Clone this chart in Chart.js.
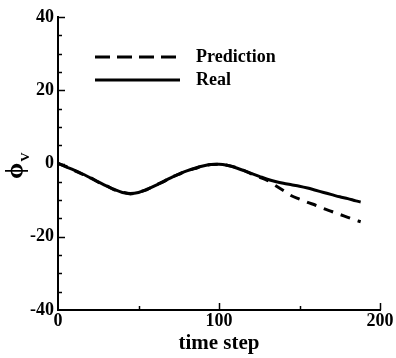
<!DOCTYPE html>
<html>
<head>
<meta charset="utf-8">
<script src="https://cdn.jsdelivr.net/npm/chart.js@4"></script>
<style>
  html, body { margin: 0; padding: 0; background: #fff; }
  #wrap { width: 396px; height: 358px; }
</style>
</head>
<body>
<div id="wrap"><canvas id="chart" width="396" height="358"></canvas></div>
<script>
// ---------- data ----------
const timeSteps = [0,5,10,15,20,25,30,35,40,45,50,55,60,65,70,75,80,85,90,95,100,105,110,115,120,125,130,135,140,145,150,155,160,165,170,175,180,185,188];
const realVals = [0,-0.9,-1.8,-2.8,-3.9,-5.0,-6.1,-7.1,-7.9,-8.2,-7.9,-7.1,-6.1,-5.0,-3.9,-2.9,-2.0,-1.3,-0.7,-0.3,-0.2,-0.5,-1.1,-1.9,-2.7,-3.5,-4.3,-4.9,-5.4,-5.8,-6.2,-6.7,-7.3,-7.9,-8.5,-9.1,-9.6,-10.2,-10.5];
const predVals = [0,-0.8,-1.9,-2.9,-3.8,-5.1,-6.0,-7.2,-7.8,-8.3,-7.8,-7.2,-6.0,-5.1,-3.8,-3.0,-1.9,-1.4,-0.6,-0.3,-0.2,-0.5,-1.0,-1.8,-2.8,-3.7,-4.6,-6.0,-7.4,-8.8,-9.7,-10.6,-11.4,-12.3,-13.1,-13.9,-14.7,-15.5,-15.9];
const seriesNames = ['Prediction', 'Real'];
const xTitle = 'time step';
const yTitleMain = 'ϕ';
const yTitleSub = 'V';

const FONT = '"Liberation Serif", "Times New Roman", serif';

function toPoints(vals){ return vals.map((v,i)=>({x: timeSteps[i], y: v})); }

// inward ticks, legend and rotated y label with subscript
const decor = {
  id: 'decor',
  afterDraw(chart){
    const ctx = chart.ctx;
    const xs = chart.scales.x, ys = chart.scales.y;
    const area = chart.chartArea;
    ctx.save();
    ctx.strokeStyle = '#000';
    ctx.lineWidth = 1.5;
    // y ticks every 5, major every 20
    for(let v = -35; v <= 40; v += 5){
      const py = Math.round(ys.getPixelForValue(v)) + 0.5;
      const len = v % 20 === 0 ? 7 : 4;
      ctx.beginPath(); ctx.moveTo(area.left, py); ctx.lineTo(area.left + len, py); ctx.stroke();
    }
    // x ticks every 50, major every 100
    for(let v = 50; v <= 200; v += 50){
      const px = Math.round(xs.getPixelForValue(v)) + 0.5;
      const len = v % 100 === 0 ? 7 : 4;
      ctx.beginPath(); ctx.moveTo(px, area.bottom); ctx.lineTo(px, area.bottom - len); ctx.stroke();
    }

    // legend
    const lx0 = 95, lx1 = 180, ly = [57, 80];
    chart.data.datasets.forEach((ds, i) => {
      ctx.lineWidth = 3;
      ctx.setLineDash(i === 0 ? [15, 7] : []);
      ctx.beginPath(); ctx.moveTo(lx0, ly[i]); ctx.lineTo(lx1, ly[i]); ctx.stroke();
      ctx.setLineDash([]);
      ctx.fillStyle = '#000';
      ctx.font = 'bold 18px ' + FONT;
      ctx.textAlign = 'left'; ctx.textBaseline = 'middle';
      ctx.fillText(ds.label, 196, ly[i]);
    });

    // y title (rotated, with subscript)
    ctx.translate(23, 179);
    ctx.rotate(-Math.PI/2);
    ctx.textAlign = 'left'; ctx.textBaseline = 'alphabetic';
    ctx.font = 'bold 26px ' + FONT;
    ctx.fillText(yTitleMain, 0, 0);
    const w = ctx.measureText(yTitleMain).width;
    ctx.font = 'bold 13px ' + FONT;
    ctx.fillText(yTitleSub, w + 1, 6);
    ctx.restore();
  }
};

new Chart(document.getElementById('chart'), {
  type: 'line',
  data: {
    datasets: [
      { label: seriesNames[0], data: toPoints(predVals), borderColor: '#000', borderWidth: 3,
        borderDash: [10, 8], pointRadius: 0, fill: false, tension: 0.3, order: 1 },
      { label: seriesNames[1], data: toPoints(realVals), borderColor: '#000', borderWidth: 3,
        pointRadius: 0, fill: false, tension: 0.3, order: 2 }
    ]
  },
  options: {
    responsive: false,
    animation: false,
    layout: { padding: { top: 17, right: 16, left: 0, bottom: 0 } },
    plugins: { legend: { display: false }, tooltip: { enabled: false } },
    scales: {
      x: {
        type: 'linear', min: 0, max: 200,
        ticks: { stepSize: 100, color: '#000', font: { family: FONT, size: 18, weight: 'bold' }, padding: 1, maxRotation: 0 },
        grid: { drawOnChartArea: false, drawTicks: false },
        border: { display: true, color: '#000', width: 2 },
        title: { display: true, text: xTitle, color: '#000', font: { family: FONT, size: 21, weight: 'bold' }, padding: { top: 0, bottom: 2 } },
        afterFit(s){ s.height = 48; }
      },
      y: {
        min: -40, max: 40,
        ticks: { stepSize: 20, color: '#000', font: { family: FONT, size: 18, weight: 'bold' }, padding: 4 },
        grid: { drawOnChartArea: false, drawTicks: false },
        border: { display: true, color: '#000', width: 2 },
        afterFit(s){ s.width = 58; }
      }
    }
  },
  plugins: [decor]
});
</script>
</body>
</html>
